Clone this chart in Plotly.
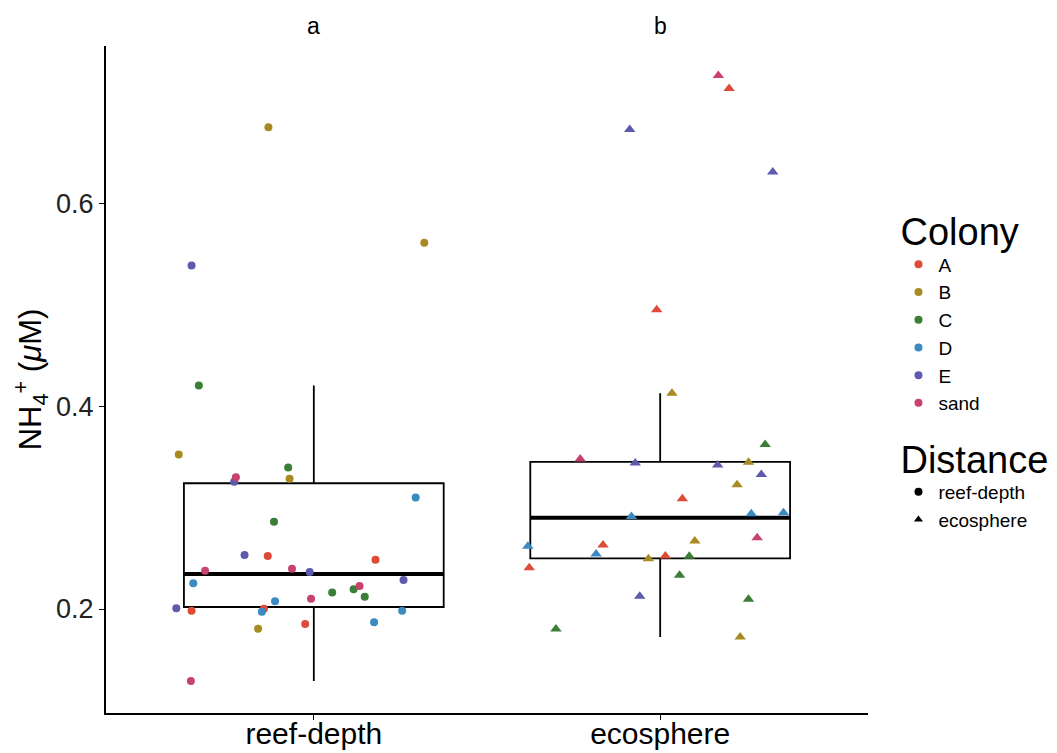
import plotly.graph_objects as go

colonies = ["A", "B", "C", "D", "E", "sand"]
colors = {"A": "#DE4B37", "B": "#A88A22", "C": "#3B7E37", "D": "#3A8BC2",
          "E": "#5E5AAE", "sand": "#C8436B"}
groups = ["reef-depth", "ecosphere"]
group_pos = [1, 2]

# reef-depth values (NH4+ uM) and jitter offsets, per colony
reef_vals = {
    "A": [0.2522, 0.2486, 0.1983, 0.2003, 0.1852],
    "B": [0.675, 0.561, 0.3524, 0.3284, 0.1806],
    "C": [0.4204, 0.3396, 0.286, 0.2194, 0.2164, 0.2121],
    "D": [0.310, 0.2253, 0.2076, 0.1973, 0.1983, 0.1869],
    "E": [0.5386, 0.3254, 0.2532, 0.2365, 0.2286, 0.2007],
    "sand": [0.330, 0.2377, 0.2397, 0.2227, 0.2101, 0.1290],
}
reef_jit = {
    "A": [-0.133, 0.178, -0.353, -0.144, -0.025],
    "B": [-0.131, 0.319, -0.390, -0.070, -0.161],
    "C": [-0.332, -0.074, -0.115, 0.115, 0.053, 0.147],
    "D": [0.294, -0.348, -0.112, -0.150, 0.255, 0.174],
    "E": [-0.353, -0.230, -0.200, -0.012, 0.259, -0.397],
    "sand": [-0.225, -0.314, -0.063, 0.132, -0.008, -0.355],
}
# ecosphere values and jitter offsets, per colony
eco_vals = {
    "A": [0.713, 0.4949, 0.3087, 0.263, 0.2522, 0.2407],
    "B": [0.4128, 0.3448, 0.3225, 0.267, 0.2496, 0.1724],
    "C": [0.3622, 0.2519, 0.2332, 0.2096, 0.1803],
    "D": [0.2913, 0.294, 0.295, 0.2618, 0.2542],
    "E": [0.6726, 0.6308, 0.344, 0.342, 0.3327, 0.2125],
    "sand": [0.726, 0.348, 0.2703],
}
eco_jit = {
    "A": [0.199, -0.010, 0.064, -0.165, 0.015, -0.378],
    "B": [0.034, 0.255, 0.222, 0.100, -0.034, 0.231],
    "C": [0.303, 0.084, 0.056, 0.255, -0.301],
    "D": [-0.083, 0.263, 0.356, -0.382, -0.185],
    "E": [-0.088, 0.325, -0.072, 0.166, 0.292, -0.059],
    "sand": [0.168, -0.231, 0.280],
}

# box statistics
box_q1 = [0.202, 0.250]
box_median = [0.2345, 0.290]
box_q3 = [0.324, 0.345]
box_low = [0.129, 0.1724]
box_high = [0.4204, 0.4128]

panel_labels = ["a", "b"]
y_ticks = [0.2, 0.4, 0.6]

fig = go.Figure()

fig.add_trace(go.Box(
    x=group_pos, q1=box_q1, median=box_median, q3=box_q3,
    lowerfence=box_low, upperfence=box_high, width=0.75,
    boxpoints=False, fillcolor="rgba(255,255,255,0)",
    line=dict(color="black", width=1.8), whiskerwidth=0,
    showlegend=False, hoverinfo="skip"))

for xp, med in zip(group_pos, box_median):
    fig.add_trace(go.Scatter(
        x=[xp - 0.375, xp + 0.375], y=[med, med], mode="lines",
        line=dict(color="black", width=4), showlegend=False, hoverinfo="skip"))

for c in colonies:
    fig.add_trace(go.Scatter(
        x=[group_pos[0] + j for j in reef_jit[c]], y=reef_vals[c],
        mode="markers", name=c, legend="legend",
        marker=dict(symbol="circle", size=8, color=colors[c])))
for c in colonies:
    fig.add_trace(go.Scatter(
        x=[group_pos[1] + j for j in eco_jit[c]], y=eco_vals[c],
        mode="markers", name=c, showlegend=False,
        marker=dict(symbol="triangle-up", size=10, color=colors[c])))

for g, sym in zip(groups, ["circle", "triangle-up"]):
    fig.add_trace(go.Scatter(
        x=[None], y=[None], mode="markers", name=g, legend="legend2",
        marker=dict(symbol=sym, size=8, color="black")))

for xp, lab in zip(group_pos, panel_labels):
    fig.add_annotation(x=xp, y=1.03, yref="paper", yanchor="middle", text=lab,
                       showarrow=False, font=dict(size=23, color="black"))

font = "Liberation Sans, Arial, sans-serif"
fig.update_layout(
    width=1057, height=753,
    margin=dict(l=98, r=197, t=38, b=48),
    plot_bgcolor="white", paper_bgcolor="white",
    font=dict(family=font, color="black"),
    xaxis=dict(range=[0.4, 2.6], tickvals=group_pos, ticktext=groups,
               automargin=False, ticklabelstandoff=-12,
               showgrid=False, zeroline=False, showline=True, linecolor="black",
               linewidth=2, ticks="outside", ticklen=5, tickcolor="black",
               tickfont=dict(size=30, color="black")),
    yaxis=dict(range=[0.0975, 0.755], tickvals=y_ticks,
               ticktext=[f"{v:.1f}" for v in y_ticks], automargin=False,
               showgrid=False, zeroline=False, showline=True, linecolor="black",
               linewidth=2, ticks="outside", ticklen=5, tickcolor="black",
               tickfont=dict(size=27, color="#222"),
               title=dict(text="NH<sub>4</sub><sup>+</sup> (<i>μ</i>M)",
                          font=dict(size=31), standoff=8)),
    legend=dict(x=1.04, y=0.775, xanchor="left", yanchor="top",
                title=dict(text="Colony", font=dict(size=38)),
                font=dict(size=19), tracegroupgap=0, itemwidth=30),
    legend2=dict(x=1.04, y=0.434, xanchor="left", yanchor="top",
                 title=dict(text="Distance", font=dict(size=38)),
                 font=dict(size=19), tracegroupgap=0, itemwidth=30),
)

fig.write_html("out.html")
